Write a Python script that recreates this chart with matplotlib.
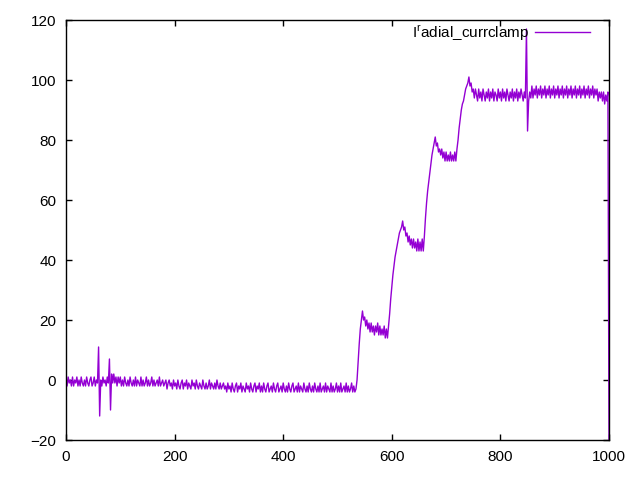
import numpy as np
import matplotlib
matplotlib.use("Agg")
import matplotlib.pyplot as plt

# sample positions (every 2 time units, 0..1000)
x = np.arange(0, 1001, 2)

# values, 50 time units per row
y_rows = [
    [0, -2, 1, -1, 0, -2, 1, -2, 0, -1, 1, -2, 0, -2, 1, -1, -2, 0, -2, 1, -1, -2, 0, 1, -2],
    [-1, 1, -2, 0, -1, 11, -12, 0, -2, 1, -1, 0, -2, 1, -1, 7, -10, 2, -1, 2, -1, 1, -2, 1, -1],
    [1, -2, 0, -2, 1, -1, -2, 0, -2, 1, -1, -2, 0, -2, 1, -2, 0, -1, -2, 1, -2, 0, -2, -1, 1],
    [-2, 0, -2, -1, 1, -2, 0, -2, -1, 0, -2, 1, -2, -1, 0, -2, -1, 0, -3, -1, 0, -2, -1, -3, 0],
    [-2, -1, -3, 0, -2, -3, -1, 0, -3, -1, -2, 0, -3, -1, -2, -3, 0, -2, -1, -3, 0, -2, -3, -1, -2],
    [-3, 0, -2, -3, -1, -3, -2, 0, -3, -1, -2, -3, -1, -3, 0, -2, -3, -1, -3, -2, -1, -3, -2, -4, -1],
    [-3, -2, -4, -1, -3, -4, -2, -1, -4, -2, -3, -1, -4, -2, -3, -4, -1, -3, -2, -4, -1, -3, -4, -2, -1],
    [-4, -2, -3, -1, -4, -2, -4, -1, -3, -4, -2, -1, -4, -3, -2, -4, -1, -3, -4, -2, -1, -4, -3, -2, -4],
    [-1, -3, -4, -2, -4, -1, -3, -4, -2, -1, -4, -3, -2, -4, -1, -4, -2, -3, -4, -1, -3, -4, -2, -4, -1],
    [-3, -4, -2, -4, -1, -3, -4, -2, -4, -1, -4, -3, -2, -4, -1, -4, -2, -3, -4, -1, -4, -2, -4, -3, -1],
    [-4, -2, -4, -1, -4, -3, -2, -4, -1, -4, -2, -4, -3, -1, -4, -2, -4, -3, 0, 6, 12, 17, 20, 23, 20],
    [21, 18, 20, 17, 19, 16, 19, 16, 18, 15, 18, 16, 19, 15, 18, 15, 17, 15, 18, 14, 17, 14, 18, 22, 27],
    [31, 35, 38, 41, 43, 45, 47, 49, 50, 51, 53, 50, 51, 48, 49, 46, 48, 45, 47, 44, 47, 44, 46, 43, 47],
    [43, 46, 43, 47, 43, 48, 54, 59, 63, 66, 69, 72, 75, 77, 79, 81, 78, 79, 76, 77, 75, 77, 74, 76, 73],
    [76, 73, 75, 73, 76, 73, 75, 73, 76, 73, 77, 80, 84, 87, 90, 92, 93, 95, 97, 98, 99, 101, 98, 99, 96],
    [97, 94, 97, 95, 93, 97, 94, 96, 93, 97, 95, 93, 96, 94, 97, 93, 96, 94, 97, 93, 96, 95, 93, 97, 94],
    [96, 93, 97, 94, 96, 93, 97, 95, 93, 96, 94, 97, 93, 96, 94, 97, 93, 96, 94, 97, 95, 93, 96, 94, 117],
    [83, 93, 96, 94, 98, 94, 97, 95, 98, 94, 97, 95, 98, 94, 97, 95, 98, 94, 97, 95, 98, 94, 97, 95, 98],
    [94, 97, 95, 98, 94, 97, 95, 98, 94, 97, 95, 98, 94, 97, 95, 98, 94, 97, 95, 98, 94, 97, 95, 98, 94],
    [97, 95, 98, 94, 97, 95, 98, 94, 97, 95, 98, 94, 97, 95, 97, 93, 96, 94, 96, 93, 96, 92, 95, 93, 96],
    [-20],
]
y = np.array([v for row in y_rows for v in row])

series_label = r"I$^{\mathrm{r}}$adial_currclamp"
xticks = [0, 200, 400, 600, 800, 1000]
yticks = [-20, 0, 20, 40, 60, 80, 100, 120]

plt.rcParams["font.family"] = ["Liberation Sans", "DejaVu Sans"]
plt.rcParams["mathtext.fontset"] = "custom"
plt.rcParams["mathtext.rm"] = "Liberation Sans"

fig = plt.figure(figsize=(6.4, 4.8), dpi=100)
ax = fig.add_axes([66 / 640, 40 / 480, 543 / 640, 420 / 480])

ax.plot(x, y, color="#9400d3", lw=1, label=series_label)

ax.set_xlim(0, 1000)
ax.set_ylim(-20, 120)
ax.set_xticks(xticks)
ax.set_yticks(yticks)
ax.tick_params(direction="in", length=4, width=1, top=True, right=True,
               labelsize=11, pad=7, colors="black")
for s in ax.spines.values():
    s.set_linewidth(1)

# legend: text right of sample line, top right corner (gnuplot style)
leg = ax.legend(loc="center right", bbox_to_anchor=(0.965, 0.969),
                frameon=False, fontsize=11, handlelength=3.6,
                borderaxespad=0, borderpad=0, handletextpad=0.35,
                markerfirst=False)

fig.savefig("out.png", dpi=100)
